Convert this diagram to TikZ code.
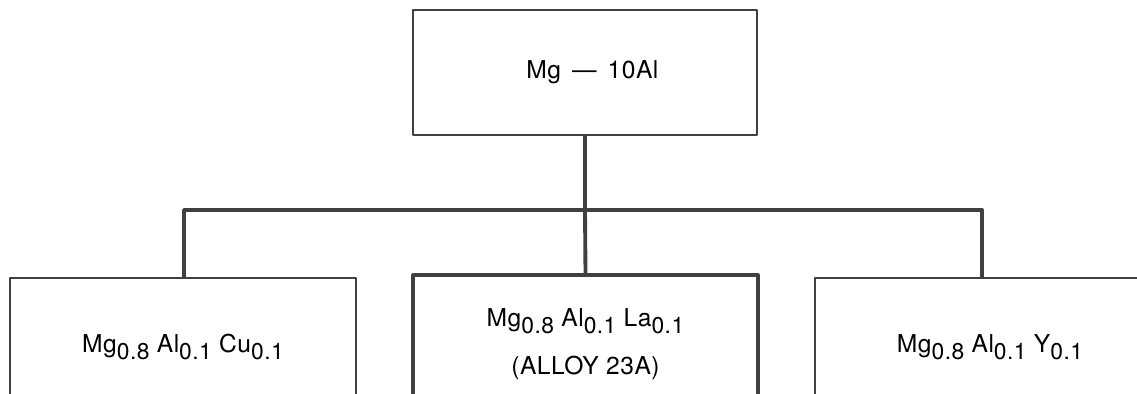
\documentclass[tikz,border=0pt]{standalone}
\usepackage{fontspec}
\setmainfont{TeX Gyre Heros}[LetterSpace=2]
\newcommand{\idx}[1]{\raisebox{-0.55ex}{\fontsize{13}{15}\selectfont #1}}
\begin{document}
\begin{tikzpicture}[x=0.02cm,y=-0.02cm,line join=round,
  every node/.style={draw=black!75,line width=1.1pt,inner sep=0pt,align=center,font=\fontsize{14}{27}\selectfont},
  thickbox/.style={line width=1.8pt},
  link/.style={draw=black!75,line width=2.2pt}]
  \useasboundingbox (0,0) rectangle (1137,393);
  \clip (0,0) rectangle (1137,393);
  % Aleación base
  \node[minimum width=6.88cm,minimum height=2.5cm] (base) at (585,72.5) {\hspace{0.6em}Mg\hspace{0.45em}---\hspace{0.45em}10Al};

  % Las tres aleaciones ternarias
  \node[minimum width=6.92cm,minimum height=2.76cm] (cu) at (183,347) {Mg\idx{0.8} Al\idx{0.1} Cu\idx{0.1}};
  \node[thickbox,minimum width=6.9cm,minimum height=2.76cm] (la) at (585.5,344) {Mg\idx{0.8} Al\idx{0.1} La\idx{0.1}\\(ALLOY 23A)};
  \node[minimum width=7cm,minimum height=2.76cm] (y) at (990,347) {Mg\idx{0.8} Al\idx{0.1} Y\idx{0.1}};

  % Puntos de la barra horizontal
  \coordinate (j) at (585,210);
  \coordinate (jl) at (184,210);
  \coordinate (jr) at (982,210);

  % Barra y ramas
  \draw[link] (base.south) -- (j);
  \draw[link] (cu.north -| jl) -- (jl) -- (jr) -- (y.north -| jr);
  \draw[link] (j) -- (la.north);
\end{tikzpicture}
\end{document}
